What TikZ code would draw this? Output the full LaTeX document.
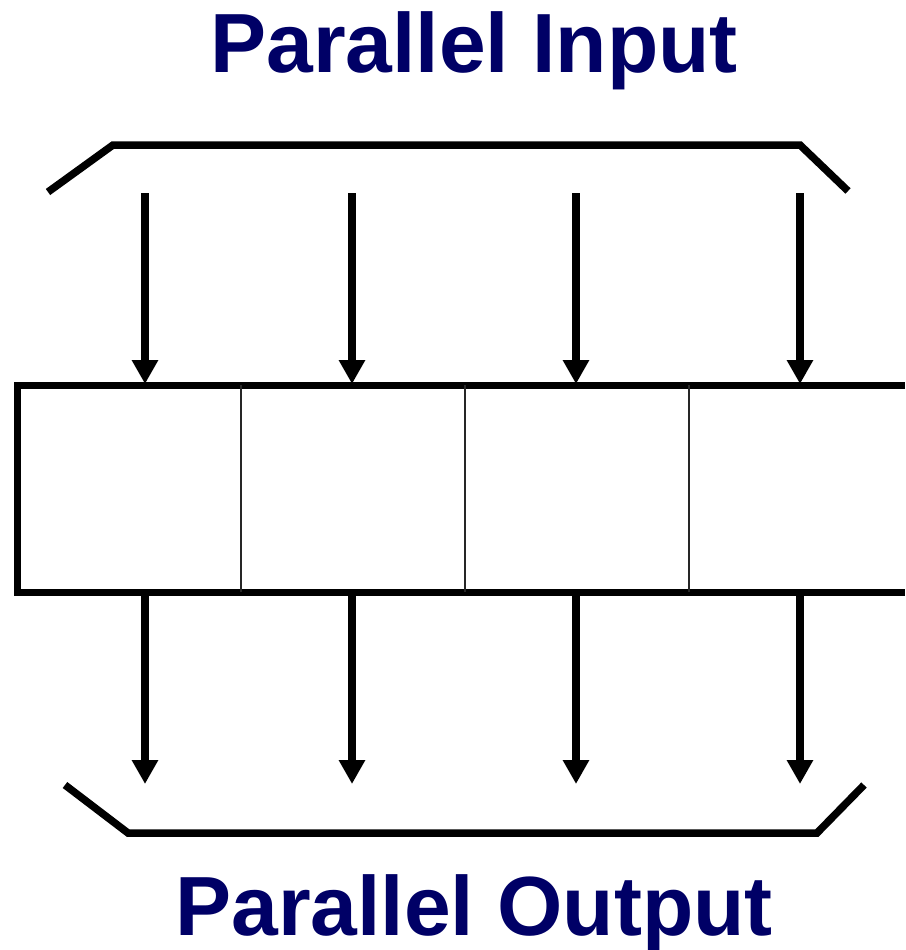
\documentclass[tikz,border=0pt]{standalone}
\usepackage{fontspec}
\setmainfont{Liberation Sans}
\usetikzlibrary{arrows.meta}
\definecolor{navy}{HTML}{000066}
\begin{document}
\begin{tikzpicture}[x=1pt,y=-1pt,
  heavy/.style={line width=7pt},
  bus/.style={line width=7.5pt,line cap=butt,line join=miter},
  flow/.style={line width=8pt,-{Triangle[width=25pt,length=24pt]}},
  divider/.style={line width=1.8pt,black!85},
  title/.style={anchor=base,text=navy,font=\bfseries\fontsize{84}{84}\selectfont,inner sep=0pt}]
\useasboundingbox (0,0) rectangle (905,950);

% titles
\node[title] (tin) at (474,73) {Parallel Input};
\node[title] (tout) at (474,935) {Parallel Output};

% input bus bracket
\draw[bus] (48,192) -- (113,145) -- (800,145) -- (848,191);
% output bus bracket
\draw[bus] (65,785) -- (128,833) -- (817,833) -- (864,785);

% register cells (open on the right)
\draw[heavy,line join=miter] (905,385) -- (17,385) -- (17,592) -- (905,592);
\foreach \x/\n in {241/1,465/2,689/3}
  \draw[divider] (\x,385) coordinate (dt\n) -- (\x,592) coordinate (db\n);

% arrow end points
\foreach \x/\n in {145/1,352/2,576/3,800/4}{
  \coordinate (in\n) at (\x,193);
  \coordinate (top\n) at (\x,384);
  \coordinate (bot\n) at (\x,589);
  \coordinate (out\n) at (\x,784);
}

% parallel load and parallel read
\foreach \n in {1,...,4}{
  \draw[flow] (in\n) -- (top\n);
  \draw[flow] (bot\n) -- (out\n);
}
\end{tikzpicture}
\end{document}
